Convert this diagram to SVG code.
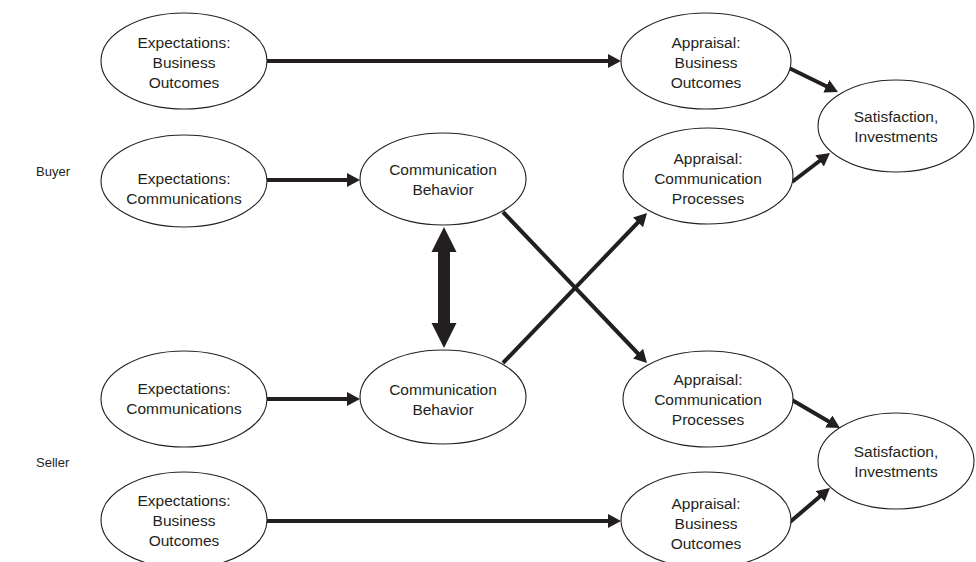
<svg xmlns="http://www.w3.org/2000/svg" width="976" height="562" viewBox="0 0 976 562">
<style>
.n ellipse{fill:#fff;stroke:#231f20;stroke-width:1.1}
.n text,.lbl{font-family:"Liberation Sans",Arial,sans-serif;font-size:15.5px;fill:#231f20;text-anchor:middle}
.lbl{font-size:13px;text-anchor:start}
.c line{stroke:#231f20;stroke-width:4}
</style>
<defs>
<marker id="ah" markerUnits="userSpaceOnUse" viewBox="0 -7 13 14" markerWidth="13" markerHeight="14" refX="4" refY="0" orient="auto">
<path d="M0,-7 L13,0 L0,7 z" fill="#231f20"/>
</marker>
</defs>
<rect width="976" height="562" fill="#fff"/>
<text class="lbl" x="36" y="176">Buyer</text>
<text class="lbl" x="36" y="467">Seller</text>
<g class="c" id="connectors">
<line x1="267" y1="61" x2="612" y2="61" marker-end="url(#ah)"/>
<line x1="267" y1="521" x2="612" y2="521" marker-end="url(#ah)"/>
<line x1="267" y1="180" x2="351" y2="180" marker-end="url(#ah)"/>
<line x1="267" y1="399" x2="351" y2="399" marker-end="url(#ah)"/>
<line x1="503" y1="212" x2="640.8" y2="356.5" marker-end="url(#ah)"/>
<line x1="503" y1="363" x2="640.8" y2="219.5" marker-end="url(#ah)"/>
<line x1="787" y1="67" x2="829.9" y2="88" marker-end="url(#ah)"/>
<line x1="792" y1="182" x2="822.8" y2="158.5" marker-end="url(#ah)"/>
<line x1="792" y1="400" x2="832.2" y2="423.5" marker-end="url(#ah)"/>
<line x1="790" y1="522" x2="823.1" y2="493.8" marker-end="url(#ah)"/>
<polygon points="444,227 456.5,252 450,252 450,323 456.5,323 444,348 431.5,323 438,323 438,252 431.5,252" fill="#231f20"/>
</g>
<g class="n" id="exp-bo-buyer"><ellipse cx="184" cy="61" rx="83" ry="48"/><text x="184" y="48">Expectations:</text><text x="184" y="68">Business</text><text x="184" y="88">Outcomes</text></g>
<g class="n" id="exp-comm-buyer"><ellipse cx="184" cy="181" rx="83" ry="46"/><text x="184" y="184">Expectations:</text><text x="184" y="204">Communications</text></g>
<g class="n" id="comm-beh-buyer"><ellipse cx="443" cy="179" rx="83" ry="46"/><text x="443" y="175">Communication</text><text x="443" y="195">Behavior</text></g>
<g class="n" id="appr-bo-buyer"><ellipse cx="706" cy="61" rx="85" ry="48"/><text x="706" y="48">Appraisal:</text><text x="706" y="68">Business</text><text x="706" y="88">Outcomes</text></g>
<g class="n" id="appr-cp-buyer"><ellipse cx="708" cy="176" rx="85" ry="48"/><text x="708" y="164">Appraisal:</text><text x="708" y="184">Communication</text><text x="708" y="204">Processes</text></g>
<g class="n" id="sat-buyer"><ellipse cx="896" cy="126" rx="78" ry="46"/><text x="896" y="122">Satisfaction,</text><text x="896" y="142">Investments</text></g>
<g class="n" id="exp-comm-seller"><ellipse cx="184" cy="399" rx="83" ry="48"/><text x="184" y="394">Expectations:</text><text x="184" y="414">Communications</text></g>
<g class="n" id="comm-beh-seller"><ellipse cx="443" cy="397" rx="83" ry="47"/><text x="443" y="395">Communication</text><text x="443" y="415">Behavior</text></g>
<g class="n" id="appr-cp-seller"><ellipse cx="708" cy="399" rx="85" ry="48"/><text x="708" y="385">Appraisal:</text><text x="708" y="405">Communication</text><text x="708" y="425">Processes</text></g>
<g class="n" id="sat-seller"><ellipse cx="896" cy="461" rx="78" ry="48"/><text x="896" y="457">Satisfaction,</text><text x="896" y="477">Investments</text></g>
<g class="n" id="exp-bo-seller"><ellipse cx="184" cy="520" rx="83" ry="48"/><text x="184" y="506">Expectations:</text><text x="184" y="526">Business</text><text x="184" y="546">Outcomes</text></g>
<g class="n" id="appr-bo-seller"><ellipse cx="706" cy="520" rx="85" ry="48"/><text x="706" y="509">Appraisal:</text><text x="706" y="529">Business</text><text x="706" y="549">Outcomes</text></g>
</svg>
